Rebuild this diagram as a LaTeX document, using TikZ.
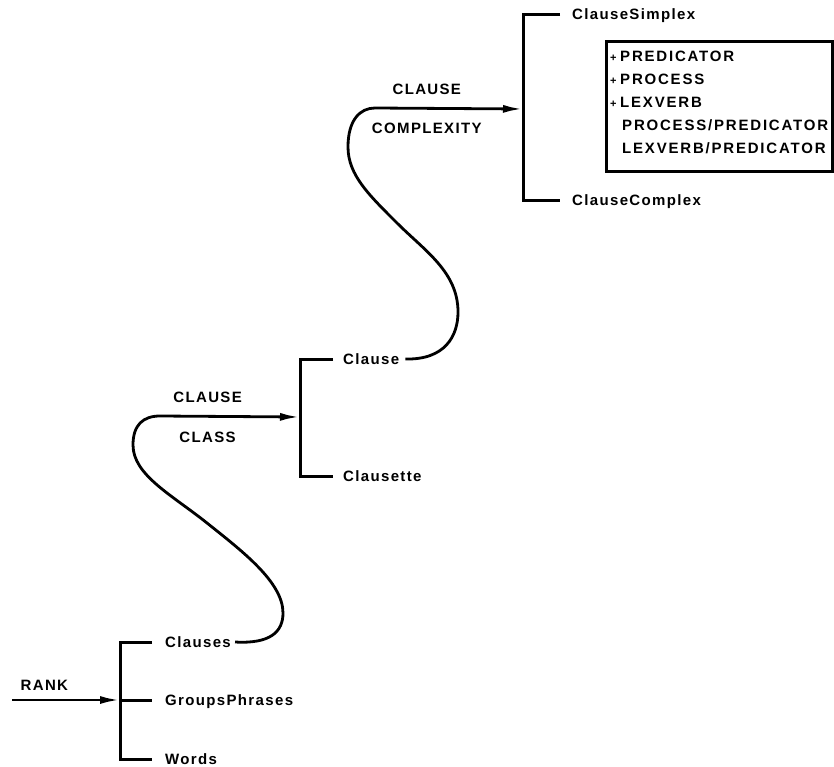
\documentclass[tikz,border=0pt]{standalone}
\usepackage{fontspec}
\newfontfamily\netfont{Liberation Sans}[LetterSpace=9]
\usetikzlibrary{arrows.meta}

\tikzset{
	branch/.style={line width=3pt},
	feed/.style={line width=2.8pt, -{Latex[length=20pt,width=8pt]}},
	lbl/.style={inner sep=0pt, text height=10pt, text depth=0pt,
		font=\netfont\bfseries\fontsize{15}{17}\selectfont},
	term/.style={lbl, anchor=west}
}

\begin{document}
\begin{tikzpicture}[x=1pt,y=-1pt]
		\useasboundingbox (0,0) rectangle (834,767);
		
		%% rank
		\node[term] (clauses) at (165,642) {Clauses};
		\node[term] (groups) at (165,700) {GroupsPhrases};
		\node[term] (words) at (165,759) {Words};
		\coordinate (spine1) at (120,700);
		\coordinate (rankin) at (12,700);
		\draw[branch] ([xshift=-13pt]clauses.west) -| ([xshift=-45pt]words.west) -- ([xshift=-13pt]words.west);
		\draw[branch] (spine1) -- ([xshift=-13pt]groups.west);
		\draw[feed] (rankin) -- node[lbl,pos=0.3,above=8pt] (rank) {RANK} (spine1);
		
		%% clause class
		\node[term] (clause) at (343,359) {Clause};
		\node[term] (clausette) at (343,476) {Clausette};
		\coordinate (spine2) at (300,417);
		\draw[branch] ([xshift=-10pt]clause.west) -| ([xshift=-43pt]clausette.west) -- ([xshift=-10pt]clausette.west);
		\draw[feed] ([xshift=4pt]clauses.east) .. controls (270,644) and (283,632) .. (283,613)
			.. controls (283,582) and (242,551) .. (207,523)
			.. controls (172,495) and (133,475) .. (133,445)
			.. controls (133,425) and (143,416) .. (160,416)
			-- node[lbl,pos=0.34,above=12pt] (classtop) {CLAUSE}
			   node[lbl,pos=0.34,below=15pt] (classbot) {CLASS} (spine2);
		
		%% clause complexity
		\node[term] (simplex) at (572,15) {ClauseSimplex};
		\node[term] (complex) at (572,201) {ClauseComplex};
		\coordinate (spine3) at (523,109);
		\draw[branch] ([xshift=-12pt]simplex.west) -| ([xshift=-49pt]complex.west) -- ([xshift=-12pt]complex.west);
		\draw[feed] ([xshift=6pt]clause.east) .. controls (445,360) and (458,336) .. (458,312)
			.. controls (458,272) and (425,251) .. (397,223)
			.. controls (369,195) and (348,175) .. (348,147)
			.. controls (348,120) and (360,108) .. (375,108)
			-- node[lbl,pos=0.35,above=12pt] (cplxtop) {CLAUSE}
			   node[lbl,pos=0.35,below=14pt] (cplxbot) {COMPLEXITY} (spine3);
		
		%% realization statements
		\node[draw,line width=3pt,minimum width=226pt,minimum height=130pt,inner sep=0pt,anchor=north west] (featbox) at (605,40) {};
		\node[inner sep=0pt,anchor=north west,align=left,
			font=\netfont\bfseries\fontsize{15}{23}\selectfont\addfontfeature{LetterSpace=12}] (feats) at (610,51)
			{\makebox[10pt][l]{\fontsize{11}{11}\selectfont+}PREDICATOR\\
			 \makebox[10pt][l]{\fontsize{11}{11}\selectfont+}PROCESS\\
			 \makebox[10pt][l]{\fontsize{11}{11}\selectfont+}LEXVERB\\
			 \makebox[12pt]{}PROCESS/PREDICATOR\\
			 \makebox[12pt]{}LEXVERB/PREDICATOR};
\end{tikzpicture}
\end{document}
